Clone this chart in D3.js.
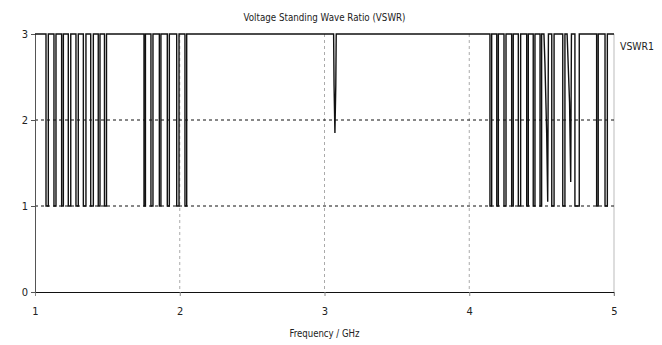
<!DOCTYPE html>
<html>
<head>
<meta charset="utf-8">
<script src="https://cdn.jsdelivr.net/npm/d3@7"></script>
<style>
  body { margin: 0; background: #fff; }
  text { font-family: "DejaVu Sans Condensed", "Liberation Sans Narrow", "Liberation Sans", sans-serif; font-size: 11px; fill: #222; }
</style>
</head>
<body>
<svg id="chart"></svg>
<script>
// tick values
const xTicks = [1, 2, 3, 4, 5];
const yTicks = [0, 1, 2, 3];

// rectangular notches (GHz): trace falls from the top of the plot (3) to 1 at dipDown and climbs back at dipUp
const dipDown = [1.076, 1.131, 1.184, 1.230, 1.283, 1.334, 1.385, 1.437, 1.480,
                 1.753, 1.801, 1.859, 1.914, 1.979, 2.036,
                 4.143, 4.190, 4.240, 4.293, 4.339, 4.397, 4.442, 4.489, 4.570, 4.646, 4.730, 4.880, 4.938];
const dipUp   = [1.092, 1.145, 1.196, 1.247, 1.299, 1.352, 1.403, 1.449, 1.494,
                 1.763, 1.815, 1.870, 1.928, 1.995, 2.048,
                 4.155, 4.201, 4.254, 4.304, 4.355, 4.408, 4.454, 4.500, 4.586, 4.661, 4.760, 4.891, 4.954];

// sloped notches that do not reach 1
const notch1Freq = [3.063, 3.066, 3.072, 3.078, 3.081];
const notch1Vswr = [3, 2.4, 1.85, 2.4, 3];
const notch2Freq = [4.516, 4.523, 4.535, 4.542, 4.547];
const notch2Vswr = [3, 2.65, 1.84, 1.05, 3];
const notch3Freq = [4.676, 4.693, 4.701, 4.706];
const notch3Vswr = [3, 2.2, 1.28, 3];

const W = 662, H = 345;
const margin = { top: 34, right: 48, bottom: 53, left: 35 };

const svg = d3.select("#chart").attr("width", W).attr("height", H);

const x = d3.scaleLinear().domain([1, 5]).range([margin.left, W - margin.right]);
const y = d3.scaleLinear().domain([0, 3]).range([H - margin.bottom, margin.top]);

// build the trace
let groups = [];
dipDown.forEach((f, i) => {
    groups.push([{ f: f, v: 3 }, { f: f, v: 1 }, { f: dipUp[i], v: 1 }, { f: dipUp[i], v: 3 }]);
});
[[notch1Freq, notch1Vswr], [notch2Freq, notch2Vswr], [notch3Freq, notch3Vswr]].forEach(n => {
    groups.push(n[0].map((f, i) => ({ f: f, v: n[1][i] })));
});
groups.sort((a, b) => a[0].f - b[0].f);
let trace = [{ f: 1, v: 3 }].concat(...groups).concat([{ f: 5, v: 3 }]);

// grid
svg.append("g").selectAll("line")
    .data([2, 3, 4])
    .join("line")
    .attr("x1", d => x(d)).attr("x2", d => x(d))
    .attr("y1", y(3)).attr("y2", y(0))
    .attr("stroke", "#aaa")
    .attr("stroke-dasharray", "3,3");

svg.append("line")
    .attr("x1", x(5)).attr("x2", x(5))
    .attr("y1", y(3)).attr("y2", y(0) + 4)
    .attr("stroke", "#bbb");

svg.append("g").selectAll("line")
    .data([1, 2])
    .join("line")
    .attr("x1", x(1)).attr("x2", x(5))
    .attr("y1", d => y(d)).attr("y2", d => y(d))
    .attr("stroke", "#111")
    .attr("stroke-dasharray", "3,3");

// axes
const xAxis = d3.axisBottom(x).tickValues(xTicks).tickSize(4).tickPadding(11).tickFormat(d3.format("d"));
const yAxis = d3.axisLeft(y).tickValues(yTicks).tickSize(4).tickPadding(3).tickFormat(d3.format("d"));

svg.append("g")
    .attr("transform", `translate(0,${y(0)})`)
    .call(xAxis)
    .call(g => g.select(".domain").attr("stroke", "#111"))
    .call(g => g.selectAll(".tick line").attr("stroke", "#888"))
    .call(g => g.selectAll("text").style("font-size", "11px").attr("fill", "#222"));

svg.append("g")
    .attr("transform", `translate(${x(1)},0)`)
    .call(yAxis)
    .call(g => g.select(".domain").attr("stroke", "#555"))
    .call(g => g.selectAll(".tick line").attr("stroke", "#555"))
    .call(g => g.selectAll("text").style("font-size", "11px").attr("fill", "#222"));

// trace
svg.append("path")
    .datum(trace)
    .attr("fill", "none")
    .attr("stroke", "#111")
    .attr("stroke-width", 1.4)
    .attr("d", d3.line().x(d => x(d.f)).y(d => y(d.v)));

// titles
svg.append("text")
    .attr("x", x(3)).attr("y", 21)
    .attr("text-anchor", "middle")
    .attr("textLength", 162).attr("lengthAdjust", "spacingAndGlyphs")
    .text("Voltage Standing Wave Ratio (VSWR)");

svg.append("text")
    .attr("x", x(3)).attr("y", 337)
    .attr("text-anchor", "middle")
    .attr("textLength", 70).attr("lengthAdjust", "spacingAndGlyphs")
    .text("Frequency / GHz");

svg.append("text")
    .attr("x", 620).attr("y", 50)
    .attr("textLength", 34).attr("lengthAdjust", "spacingAndGlyphs")
    .text("VSWR1");
</script>
</body>
</html>
